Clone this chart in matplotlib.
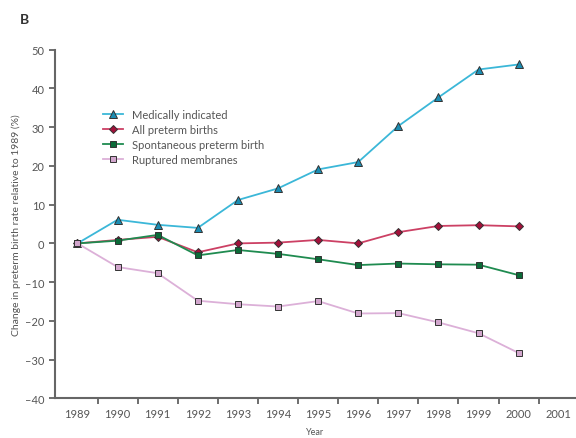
import matplotlib.pyplot as plt
import numpy as np

# Change in preterm birth rate relative to 1989 (%)
years = np.arange(1989, 2001)
medically_indicated = [0, 6.1, 4.8, 4.0, 11.2, 14.2, 19.1, 21.0, 30.3, 37.7, 44.9, 46.2]
all_preterm = [0, 0.9, 1.7, -2.3, 0.0, 0.2, 0.9, 0.0, 2.9, 4.5, 4.7, 4.4]
spontaneous = [0, 0.7, 2.2, -3.1, -1.7, -2.7, -4.1, -5.6, -5.2, -5.4, -5.5, -8.2]
ruptured = [0, -6.1, -7.7, -14.8, -15.7, -16.3, -14.9, -18.1, -18.0, -20.4, -23.2, -28.3]

year_labels = [str(y) for y in range(1989, 2002)]
y_ticks = list(range(-40, 51, 10))

plt.rcParams['font.family'] = ['Lato', 'DejaVu Sans']

fig = plt.figure(figsize=(5.76, 4.39), dpi=100)
ax = fig.add_axes([0.0955, 0.0904, 0.9045, 0.794])

series = [
    ('Medically indicated', medically_indicated, '#3bb7d8', '#1b8db3', '^', 5.5),
    ('All preterm births', all_preterm, '#cc4064', '#a3103a', 'D', 4.5),
    ('Spontaneous preterm birth', spontaneous, '#1f8b50', '#0b6a38', 's', 5),
    ('Ruptured membranes', ruptured, '#dcb0d8', '#d2a6cd', 's', 5),
]
for label, values, line_color, face, marker, size in series:
    ax.plot(years, values, color=line_color, linewidth=1.3, marker=marker,
            markersize=size, markerfacecolor=face, markeredgecolor='#333333',
            markeredgewidth=0.7, label=label)

ax.set_xlim(1988.44, 2001.43)
ax.set_ylim(-40, 50)
ax.set_yticks(y_ticks)
ax.set_yticklabels(['\u2013' + str(-t) if t < 0 else str(t) for t in y_ticks])

# tick marks sit between years, labels on the years themselves
label_years = np.arange(1989, 2002)
ax.set_xticks(label_years[:-1] + 0.5)
ax.set_xticklabels([])
ax.set_xticks(label_years, minor=True)
ax.set_xticklabels(year_labels, minor=True)
ax.tick_params(axis='x', which='minor', length=0, pad=7)
ax.tick_params(axis='both', which='major', direction='out', length=4,
               width=1.2, color='#555555')
ax.tick_params(axis='both', which='both', labelsize=8, labelcolor='#555555')

for side in ['top', 'right']:
    ax.spines[side].set_visible(False)
for side in ['left', 'bottom']:
    ax.spines[side].set_color('#666666')
    ax.spines[side].set_linewidth(1.5)

ax.set_ylabel('Change in preterm birth rate relative to 1989 (%)',
              fontsize=7.5, color='#555555', labelpad=3)
ax.set_xlabel('Year', fontsize=6.5, color='#555555', labelpad=6)

leg = ax.legend(loc='upper left', bbox_to_anchor=(0.092, 0.83), frameon=False,
                fontsize=8, handlelength=1.8, handletextpad=0.8, labelspacing=0.36,
                borderaxespad=0, borderpad=0)
for text in leg.get_texts():
    text.set_color('#555555')

fig.text(0.034, 0.955, 'B', fontsize=10, fontweight='bold', color='#333333',
         va='center')

fig.savefig('out.png', dpi=100)
